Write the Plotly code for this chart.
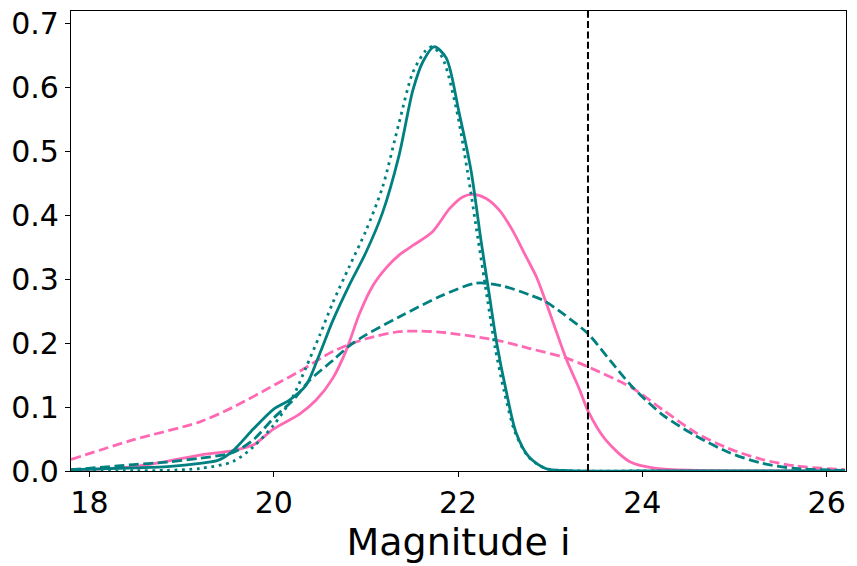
import plotly.graph_objects as go

# Teal solid
ts_x = [17.8, 18.5, 18.85, 19.2, 19.4, 19.56, 19.78, 20.0, 20.17, 20.35, 20.5, 20.64, 20.82, 21.0, 21.18, 21.36, 21.51, 21.62, 21.74, 21.87, 22.01, 22.14, 22.25, 22.34, 22.42, 22.52, 22.63, 22.77, 22.95, 23.2, 24.0, 26.2]
ts_y = [0.002, 0.005, 0.007, 0.012, 0.017, 0.032, 0.066, 0.097, 0.111, 0.134, 0.184, 0.235, 0.291, 0.342, 0.404, 0.494, 0.596, 0.641, 0.664, 0.647, 0.562, 0.471, 0.36, 0.275, 0.20, 0.127, 0.06, 0.022, 0.004, 0.0005, 0.0, 0.0]

# Teal dotted
td_x = [17.8, 18.5, 18.84, 19.2, 19.56, 19.78, 20.0, 20.21, 20.35, 20.5, 20.64, 20.82, 21.0, 21.18, 21.36, 21.51, 21.65, 21.72, 21.83, 21.98, 22.10, 22.22, 22.32, 22.40, 22.50, 22.62, 22.77, 22.95, 23.2, 24.0, 26.2]
td_y = [0.0, 0.0005, 0.001, 0.004, 0.015, 0.038, 0.072, 0.117, 0.162, 0.213, 0.263, 0.320, 0.376, 0.444, 0.545, 0.624, 0.658, 0.664, 0.647, 0.568, 0.471, 0.36, 0.268, 0.195, 0.125, 0.06, 0.021, 0.004, 0.0005, 0.0, 0.0]

# Teal dashed
tdash_x = [17.8, 18.48, 18.84, 19.2, 19.56, 19.78, 20.0, 20.21, 20.39, 20.64, 20.82, 21.0, 21.36, 21.8, 22.2, 22.5, 22.77, 22.94, 23.15, 23.41, 23.65, 23.89, 24.22, 24.58, 24.94, 25.3, 25.66, 26.2]
tdash_y = [0.002, 0.01, 0.014, 0.02, 0.029, 0.049, 0.083, 0.111, 0.142, 0.173, 0.196, 0.213, 0.241, 0.273, 0.294, 0.289, 0.276, 0.266, 0.245, 0.215, 0.173, 0.132, 0.088, 0.055, 0.029, 0.012, 0.004, 0.001]

# Pink solid
ps_x = [17.8, 18.48, 18.84, 19.2, 19.56, 19.78, 20.0, 20.28, 20.46, 20.64, 20.79, 20.93, 21.08, 21.22, 21.36, 21.51, 21.72, 21.91, 22.05, 22.16, 22.30, 22.45, 22.59, 22.74, 22.85, 22.94, 23.17, 23.32, 23.41, 23.6, 23.86, 24.15, 24.6, 26.2]
ps_y = [0.001, 0.007, 0.015, 0.025, 0.032, 0.041, 0.066, 0.089, 0.111, 0.145, 0.19, 0.246, 0.291, 0.318, 0.338, 0.353, 0.374, 0.411, 0.429, 0.433, 0.427, 0.408, 0.377, 0.335, 0.304, 0.270, 0.177, 0.127, 0.094, 0.049, 0.015, 0.004, 0.001, 0.0]

# Pink dashed
pd_x = [17.8, 18.48, 19.2, 19.56, 20.0, 20.28, 20.64, 21.0, 21.36, 21.6, 21.83, 22.41, 22.77, 23.17, 23.41, 23.89, 24.22, 24.58, 24.94, 25.3, 25.66, 26.2]
pd_y = [0.018, 0.049, 0.077, 0.10, 0.134, 0.156, 0.187, 0.207, 0.218, 0.219, 0.217, 0.205, 0.192, 0.177, 0.163, 0.130, 0.096, 0.060, 0.035, 0.018, 0.008, 0.002]

limit_x = 23.41

TEAL = "#008080"
PINK = "#FF69B4"

fig = go.Figure()

def add(x, y, color, dash):
    fig.add_trace(go.Scatter(x=x, y=y, mode="lines",
                             line=dict(color=color, width=2.8, dash=dash, shape="spline", smoothing=0.8),
                             showlegend=False, hoverinfo="skip"))

add(pd_x, pd_y, PINK, "10px,4.5px")
add(ps_x, ps_y, PINK, "solid")
add(tdash_x, tdash_y, TEAL, "10px,4.5px")
add(td_x, td_y, TEAL, "2.8px,4.6px")
add(ts_x, ts_y, TEAL, "solid")

fig.add_shape(type="line", x0=limit_x, x1=limit_x, y0=0, y1=1, yref="paper",
              line=dict(color="black", width=2, dash="7px,3.3px"))

fig.update_layout(
    width=857, height=566,
    margin=dict(l=71, r=11, t=11, b=95),
    plot_bgcolor="white", paper_bgcolor="white",
    font=dict(family="DejaVu Sans", color="black"),
    xaxis=dict(range=[17.8, 26.21], tickvals=[18, 20, 22, 24, 26],
               automargin=False, ticklabeloverflow="allow",
               ticks="outside", ticklen=5, tickwidth=1.1, tickcolor="black",
               showline=True, linecolor="black", linewidth=1.1, mirror=True,
               showgrid=False, zeroline=False,
               tickfont=dict(size=30, family="DejaVu Sans"),
               title=dict(text="Magnitude i", font=dict(size=38, family="DejaVu Sans"), standoff=0)),
    yaxis=dict(range=[0, 0.72], tickvals=[0, 0.1, 0.2, 0.3, 0.4, 0.5, 0.6, 0.7],
               tickformat=".1f", automargin=False, ticklabeloverflow="allow",
               ticks="outside", ticklen=5, tickwidth=1.1, tickcolor="black",
               showline=True, linecolor="black", linewidth=1.1, mirror=True,
               showgrid=False, zeroline=False,
               tickfont=dict(size=30, family="DejaVu Sans")),
)

# remove the page's default 8px body margin so the figure fills the window exactly
fig.write_html("out.html", config={"displayModeBar": False},
               post_script="document.body.style.margin='0';")
